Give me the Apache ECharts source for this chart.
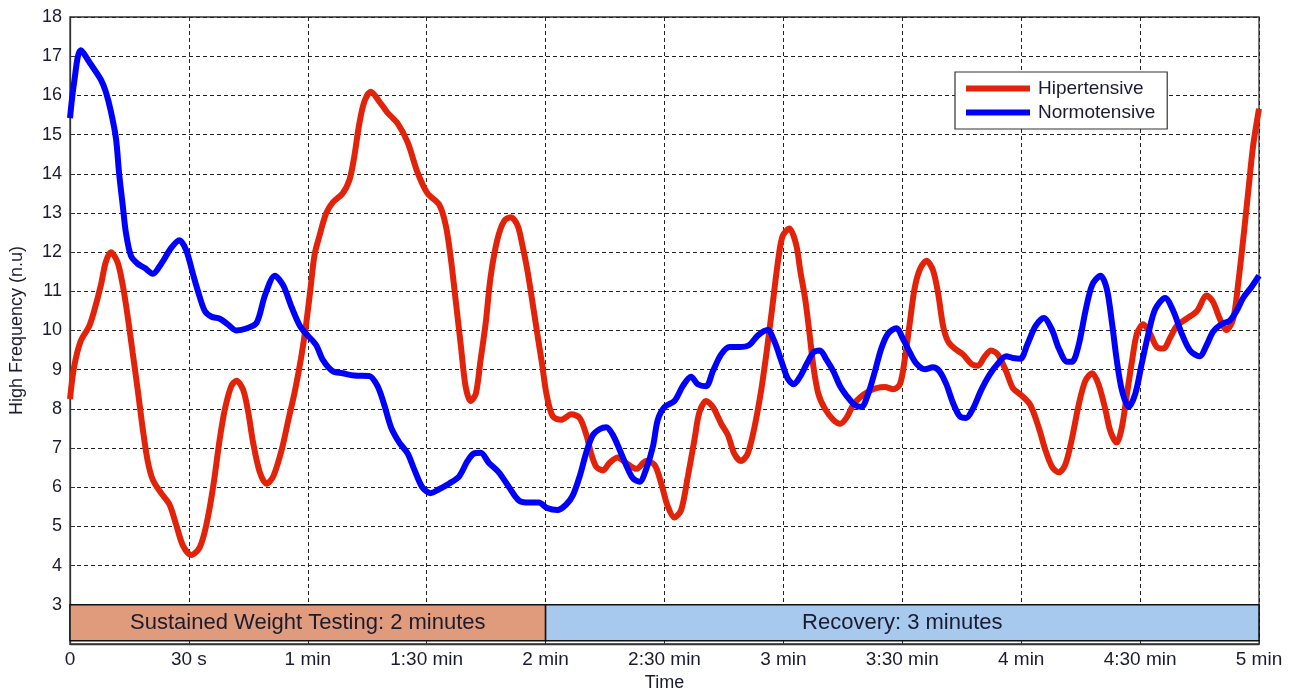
<!DOCTYPE html>
<html>
<head>
<meta charset="utf-8">
<script src="https://cdn.jsdelivr.net/npm/echarts@6/dist/echarts.min.js"></script>
<style>
  html, body { margin: 0; padding: 0; background: #fff; }
  #chart { width: 1293px; height: 688px; }
</style>
</head>
<body>
<div id="chart"></div>
<script>
// Time in seconds, HF power in normalized units
const hipertensive = [
  [0,8.25],[1,9.05],[2.7,9.73],[4.8,10.1],[6.1,10.5],[7.8,11.16],[9,11.74],[10.3,12.0],[12,11.74],
  [13.3,11.16],[14.5,10.4],[15.8,9.44],[17.1,8.48],[18.3,7.53],[19.6,6.67],[20.9,6.19],[23,5.85],
  [25.1,5.56],[26.8,5.04],[28.5,4.51],[30.6,4.27],[32.7,4.46],[34.4,5.04],[36.1,6.0],[37.8,7.24],
  [39.1,8.0],[40.7,8.58],[42,8.72],[43.7,8.48],[45,7.9],[46.2,7.14],[47.9,6.38],[49.6,6.09],
  [51.3,6.28],[53.4,6.95],[55.1,7.72],[56.8,8.48],[58.3,9.3],[59.5,10.1],[60.6,11.0],[61.7,11.93],
  [62.9,12.4],[64.6,12.98],[66.3,13.27],[68.8,13.5],[70.5,13.84],[71.7,14.42],[73,15.28],[74.3,15.85],
  [75.9,16.09],[78,15.85],[80.1,15.56],[82.7,15.28],[85.2,14.8],[87.7,14.03],[90.2,13.5],[93.1,13.22],
  [94.8,12.69],[96.1,11.83],[97.3,10.78],[98.6,9.63],[99.8,8.58],[101.1,8.2],[102.4,8.39],[103.6,9.25],
  [104.9,10.2],[106.1,11.35],[107.8,12.31],[109.5,12.79],[111.2,12.89],[112.9,12.69],[114.1,12.2],
  [115.4,11.54],[116.6,10.78],[117.9,9.92],[119.1,9.15],[120.2,8.39],[121.8,7.81],[123.9,7.72],
  [126.5,7.86],[128.6,7.77],[130.3,7.33],[131.5,6.86],[132.8,6.52],[134.5,6.43],[136.1,6.62],
  [138.2,6.76],[140.3,6.62],[142.9,6.47],[145.4,6.67],[147.5,6.57],[149.2,6.09],[150.8,5.52],
  [152.5,5.23],[154.2,5.42],[155.9,6.28],[157.6,7.24],[158.8,7.91],[160.5,8.2],[162.2,8.05],
  [164.3,7.62],[166,7.33],[167.6,6.86],[169.3,6.67],[171,6.86],[172.7,7.53],[174.4,8.48],[176,9.63],
  [177.3,10.68],[178.6,11.74],[179.8,12.41],[181.5,12.6],[183.2,12.2],[184.3,11.5],[185.5,10.8],
  [186.5,10.0],[187.6,9.06],[188.8,8.39],[190.5,8.0],[192.6,7.72],[194.3,7.62],[195.9,7.77],
  [197.6,8.1],[199.3,8.29],[201.4,8.44],[203.5,8.53],[205.6,8.56],[207.7,8.5],[209.4,8.63],
  [210.6,9.25],[211.9,10.2],[213.1,11.07],[214.4,11.55],[216.1,11.78],[217.7,11.55],[219,10.97],
  [220.3,10.11],[221.5,9.73],[223.2,9.54],[225.3,9.39],[227.4,9.15],[229.1,9.1],[230.8,9.34],
  [232.4,9.49],[234.1,9.39],[236.2,8.96],[237.9,8.53],[240,8.35],[242.3,8.1],[244.4,7.53],
  [246.1,6.95],[247.8,6.52],[249.5,6.38],[251.1,6.57],[252.8,7.24],[254.5,8.1],[256.2,8.72],
  [257.9,8.91],[259.5,8.63],[261.2,8.0],[262.5,7.43],[264.1,7.14],[265.4,7.53],[266.7,8.39],
  [268,9.25],[269.2,9.92],[270.8,10.16],[272.5,9.92],[274.2,9.58],[275.9,9.54],[277.6,9.82],
  [279.2,10.11],[281.7,10.3],[284.3,10.49],[286.8,10.89],[288.4,10.73],[290.1,10.3],[291.8,10.01],
  [293.5,10.3],[294.7,11.16],[296,12.31],[297.3,13.56],[298.5,14.7],[300,15.66]
];

const normotensive = [
  [0,15.42],[1,16.3],[2.7,17.15],[5.2,16.8],[7.8,16.4],[9,16.1],[10.3,15.6],[11.6,14.9],[12.4,14.0],
  [13.3,13.2],[14.1,12.5],[15.4,11.9],[17.1,11.7],[18.8,11.6],[20.9,11.45],[23,11.7],[25.5,12.1],
  [27.6,12.3],[29.3,12.05],[31,11.45],[32.3,11.0],[34,10.5],[35.7,10.35],[37.8,10.3],[39.9,10.15],
  [42,10.0],[44.5,10.05],[47.1,10.2],[49.2,10.9],[51.7,11.4],[53.8,11.15],[55.9,10.6],[58.1,10.1],
  [60,9.87],[62.1,9.63],[63.8,9.25],[66.3,8.96],[68.8,8.91],[71.7,8.85],[75.5,8.84],[77.6,8.58],
  [79.3,8.1],[81,7.53],[83.1,7.14],[85.2,6.86],[86.8,6.47],[88.9,6.0],[91,5.85],[93.1,5.95],
  [95.6,6.09],[98.2,6.28],[100.3,6.67],[101.9,6.86],[103.6,6.88],[105.7,6.62],[108.2,6.38],
  [110.8,6.0],[113.3,5.66],[115.8,5.61],[118.3,5.61],[120.4,5.47],[123,5.42],[125.2,5.56],
  [126.9,5.8],[128.6,6.28],[130.3,6.9],[131.9,7.33],[133.6,7.48],[135.3,7.53],[137,7.33],
  [138.7,6.95],[140.3,6.57],[142,6.23],[143.7,6.14],[145.4,6.47],[147.1,7.05],[148.3,7.72],
  [150,8.05],[152.5,8.2],[154.6,8.58],[156.7,8.82],[158.4,8.63],[160.5,8.58],[162.2,8.96],
  [164.3,9.39],[166.4,9.58],[168.9,9.58],[171.4,9.63],[173.5,9.87],[176,10.01],[177.7,9.73],
  [179.4,9.25],[181.1,8.77],[182.6,8.63],[184.2,8.82],[185.9,9.15],[187.6,9.44],[189.2,9.49],
  [190.9,9.25],[192.6,8.96],[194.3,8.58],[195.9,8.34],[198,8.1],[199.7,8.05],[201.4,8.39],
  [203.1,8.96],[204.7,9.54],[206.4,9.92],[208.5,10.06],[210.2,9.78],[211.9,9.44],[213.6,9.15],
  [215.7,9.01],[217.7,9.06],[219.4,8.96],[221.1,8.63],[222.8,8.15],[224.5,7.81],[226.1,7.77],
  [227.8,8.0],[229.9,8.48],[232,8.87],[234.1,9.15],[236.2,9.34],[237.9,9.3],[239.8,9.28],
  [241.5,9.63],[243.6,10.11],[245.7,10.32],[247.8,10.01],[249.5,9.54],[251.6,9.2],[252.8,9.2],
  [254.5,9.63],[256.2,10.49],[257.9,11.16],[260,11.4],[261.6,11.06],[262.9,10.2],[264.1,9.25],
  [265.4,8.48],[267.1,8.05],[268.8,8.39],[270.4,9.15],[272.1,9.92],[273.8,10.54],[276.3,10.83],
  [278.4,10.49],[280.5,9.92],[282.6,9.49],[285,9.34],[286.8,9.63],[288.4,9.97],[290.5,10.16],
  [292.6,10.25],[294.3,10.49],[296,10.83],[298.1,11.11],[300,11.4]
];

// Tick labels for the time axis, one every 30 s
const timeLabels = ['0', '30 s', '1 min', '1:30 min', '2 min', '2:30 min',
                    '3 min', '3:30 min', '4 min', '4:30 min', '5 min'];

// Test phases (seconds)
const phaseNames = ['Sustained Weight Testing: 2 minutes', 'Recovery: 3 minutes'];
const phaseStart = [0, 120];
const phaseEnd = [120, 300];

const FONT = '"Liberation Sans", Arial, sans-serif';
const TEXT = '#1b1b30';
const phaseColors = ['#DF9B7C', '#A7C9EE'];

const chart = echarts.init(document.getElementById('chart'), null, { renderer: 'canvas' });

const dashed = { color: '#222', width: 1, type: [4, 3] };

chart.setOption({
  animation: false,
  backgroundColor: '#fff',
  textStyle: { fontFamily: FONT },
  grid: {
    left: 70, right: 34, top: 17, bottom: 44,
    outerBoundsMode: 'none',
    containLabel: false,
    show: true, borderColor: '#333', borderWidth: 1.3, backgroundColor: 'transparent'
  },
  legend: {
    orient: 'vertical',
    left: 955, top: 72,
    padding: [7, 12, 7, 11],
    itemGap: 5,
    itemWidth: 64, itemHeight: 6,
    icon: 'rect',
    backgroundColor: '#fff',
    borderColor: '#333', borderWidth: 1.2,
    textStyle: { fontSize: 19, color: TEXT, fontFamily: FONT, padding: [0, 0, 0, 3] },
    data: ['Hipertensive', 'Normotensive']
  },
  xAxis: {
    type: 'value',
    min: 0, max: 300, interval: 30,
    name: 'Time',
    nameLocation: 'middle',
    nameGap: 24,
    nameTextStyle: { fontSize: 18, color: TEXT, fontFamily: FONT },
    axisLine: { show: true, lineStyle: { color: '#333', width: 1.3 } },
    axisTick: { show: true, inside: true, length: 4, lineStyle: { color: '#333' } },
    axisLabel: {
      margin: 6, fontSize: 19, color: TEXT, fontFamily: FONT,
      formatter: v => timeLabels[Math.round(v / 30)] ?? ''
    },
    splitLine: { show: true, lineStyle: dashed }
  },
  yAxis: {
    type: 'value',
    min: 2, max: 18, interval: 1,
    name: 'High Frequency (n.u)',
    nameLocation: 'middle',
    nameGap: 44,
    nameTextStyle: { fontSize: 18, color: TEXT, fontFamily: FONT },
    axisLine: { show: true, lineStyle: { color: '#333', width: 1.3 } },
    axisTick: { show: true, inside: true, length: 5, lineStyle: { color: '#333' } },
    axisLabel: {
      margin: 8, fontSize: 18, color: TEXT, fontFamily: FONT,
      formatter: v => (v < 3 ? '' : String(v))
    },
    splitLine: { show: true, lineStyle: dashed }
  },
  series: [
    {
      name: 'Hipertensive',
      type: 'line',
      data: hipertensive,
      smooth: 0.3,
      showSymbol: false,
      symbol: 'none',
      color: '#E2230A',
      lineStyle: { width: 6, color: '#E2230A' },
      markArea: {
        silent: true,
        data: phaseNames.map((name, i) => [
          {
            name,
            coord: [phaseStart[i], 3],
            itemStyle: { color: phaseColors[i], borderColor: '#111', borderWidth: 1.5, opacity: 1 },
            label: {
              show: true, position: 'inside', fontSize: 22,
              color: TEXT, fontFamily: FONT
            }
          },
          { coord: [phaseEnd[i], 2.08] }
        ])
      }
    },
    {
      name: 'Normotensive',
      type: 'line',
      data: normotensive,
      smooth: 0.3,
      showSymbol: false,
      symbol: 'none',
      color: '#0000FF',
      lineStyle: { width: 6, color: '#0000FF' }
    }
  ]
});
</script>
</body>
</html>
